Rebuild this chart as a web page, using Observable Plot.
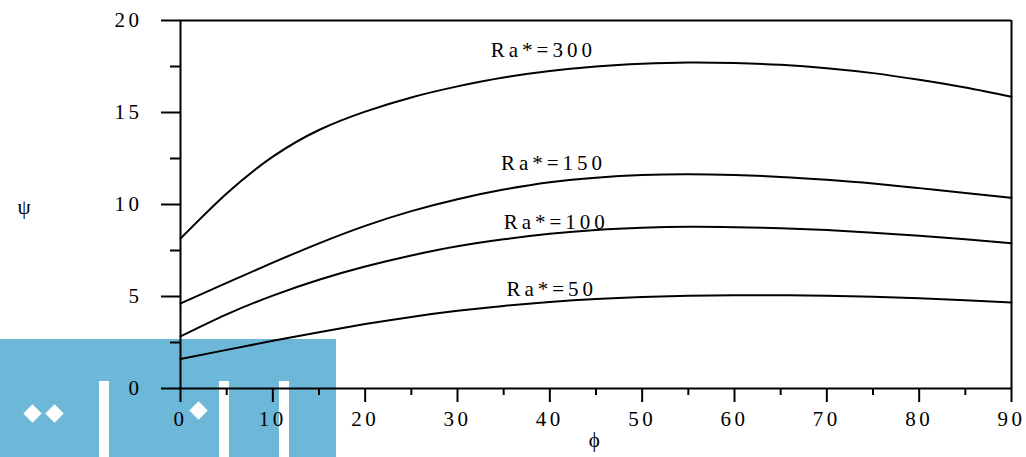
<!DOCTYPE html>
<html>
<head>
<meta charset="utf-8">
<script src="https://cdn.jsdelivr.net/npm/d3@7"></script>
<script src="https://cdn.jsdelivr.net/npm/@observablehq/plot@0.6"></script>
<style>
  html, body { margin: 0; padding: 0; background: #fff; }
  #wrap { position: relative; width: 1026px; height: 457px; overflow: hidden; }
  #wm { position: absolute; left: 0; top: 339px; width: 336px; height: 118px; background: #6db8d8; z-index: 0; }
  .wb { position: absolute; background: #fff; }
  #chart { position: absolute; left: 0; top: 0; z-index: 1; }
  #chart svg text { letter-spacing: 3.5px; font-family: "Liberation Serif", "Times New Roman", Times, serif !important; }
  #chart svg g.curve-labels text { letter-spacing: 4px; }
</style>
</head>
<body>
<div id="wrap">
  <div id="wm">
    <div class="wb" style="left:99px;top:42px;width:10px;height:80px;"></div>
    <div class="wb" style="left:219px;top:42px;width:10px;height:80px;"></div>
    <div class="wb" style="left:279px;top:42px;width:10px;height:80px;"></div>
    <div class="wb" style="left:26px;top:68px;width:13px;height:13px;transform:rotate(45deg);"></div>
    <div class="wb" style="left:48px;top:68px;width:13px;height:13px;transform:rotate(45deg);"></div>
    <div class="wb" style="left:192px;top:65px;width:13px;height:13px;transform:rotate(45deg);"></div>
  </div>
  <div id="chart"></div>
</div>
<script>
const phi = [0, 5, 10, 15, 20, 25, 30, 35, 40, 45, 50, 55, 60, 65, 70, 75, 80, 85, 90];
const ra300 = [8.15, 10.6, 12.6, 14.05, 15.05, 15.82, 16.42, 16.9, 17.25, 17.5, 17.65, 17.72, 17.69, 17.59, 17.41, 17.14, 16.78, 16.36, 15.86];
const ra150 = [4.62, 5.74, 6.84, 7.89, 8.84, 9.64, 10.29, 10.81, 11.21, 11.46, 11.6, 11.64, 11.6, 11.5, 11.34, 11.14, 10.89, 10.63, 10.36];
const ra100 = [2.83, 4.03, 5.05, 5.91, 6.63, 7.23, 7.73, 8.11, 8.41, 8.62, 8.74, 8.79, 8.77, 8.71, 8.61, 8.47, 8.3, 8.11, 7.9];
const ra50  = [1.6, 2.1, 2.59, 3.06, 3.5, 3.89, 4.22, 4.49, 4.7, 4.86, 4.97, 5.04, 5.07, 5.07, 5.04, 4.98, 4.9, 4.8, 4.68];

const seriesNames = ["Ra*=300", "Ra*=150", "Ra*=100", "Ra*=50"];
const seriesValues = [ra300, ra150, ra100, ra50];

// label anchor points (data coordinates)
const labelPhi = [33.6, 34.7, 35.0, 35.3];
const labelPsi = [18.0, 11.88, 8.68, 5.05];

const xMajor = [0, 10, 20, 30, 40, 50, 60, 70, 80, 90];
const xMinor = [5, 15, 25, 35, 45, 55, 65, 75, 85];
const yMajor = [0, 5, 10, 15, 20];
const yMinor = [2.5, 7.5, 12.5, 17.5];

const rows = [];
seriesNames.forEach((s, i) => phi.forEach((p, j) => rows.push({series: s, phi: p, psi: seriesValues[i][j]})));
const labels = seriesNames.map((s, i) => ({text: s, phi: labelPhi[i], psi: labelPsi[i]}));

const chart = Plot.plot({
  width: 1026,
  height: 457,
  marginLeft: 180,
  marginRight: 15,
  marginTop: 20,
  marginBottom: 69,
  x: {domain: [0, 90]},
  y: {domain: [0, 20]},
  style: {
    background: "transparent",
    fontFamily: "Liberation Serif, serif",
    fontSize: "21px",
    color: "black"
  },
  marks: [
    Plot.axisY(yMajor, {tickSize: 19, tickPadding: 19, strokeWidth: 2, label: null, fontSize: 21}),
    Plot.axisY(yMinor, {tickSize: 10, strokeWidth: 2, text: null, label: null}),
    Plot.axisX(xMajor, {tickSize: 14, tickPadding: 9, strokeWidth: 2, label: null, fontSize: 21}),
    Plot.axisX(xMinor, {tickSize: 7, strokeWidth: 2, text: null, label: null}),
    Plot.ruleX([0, 90], {strokeWidth: 2}),
    Plot.ruleY([0, 20], {strokeWidth: 2}),
    Plot.line(rows, {x: "phi", y: "psi", z: "series", curve: "natural", stroke: "black", strokeWidth: 2}),
    Plot.text(labels, {x: "phi", y: "psi", text: "text", textAnchor: "start", lineAnchor: "bottom", fontSize: 21, fill: "black", className: "curve-labels"}),
    Plot.text(["ψ"], {text: d => d, frameAnchor: "left", dx: -163, dy: 3, fontSize: 21, fill: "black"}),
    Plot.text(["ϕ"], {text: d => d, frameAnchor: "bottom", dy: 58, fontSize: 21, fill: "black"})
  ]
});
document.getElementById("chart").appendChild(chart);
</script>
</body>
</html>
